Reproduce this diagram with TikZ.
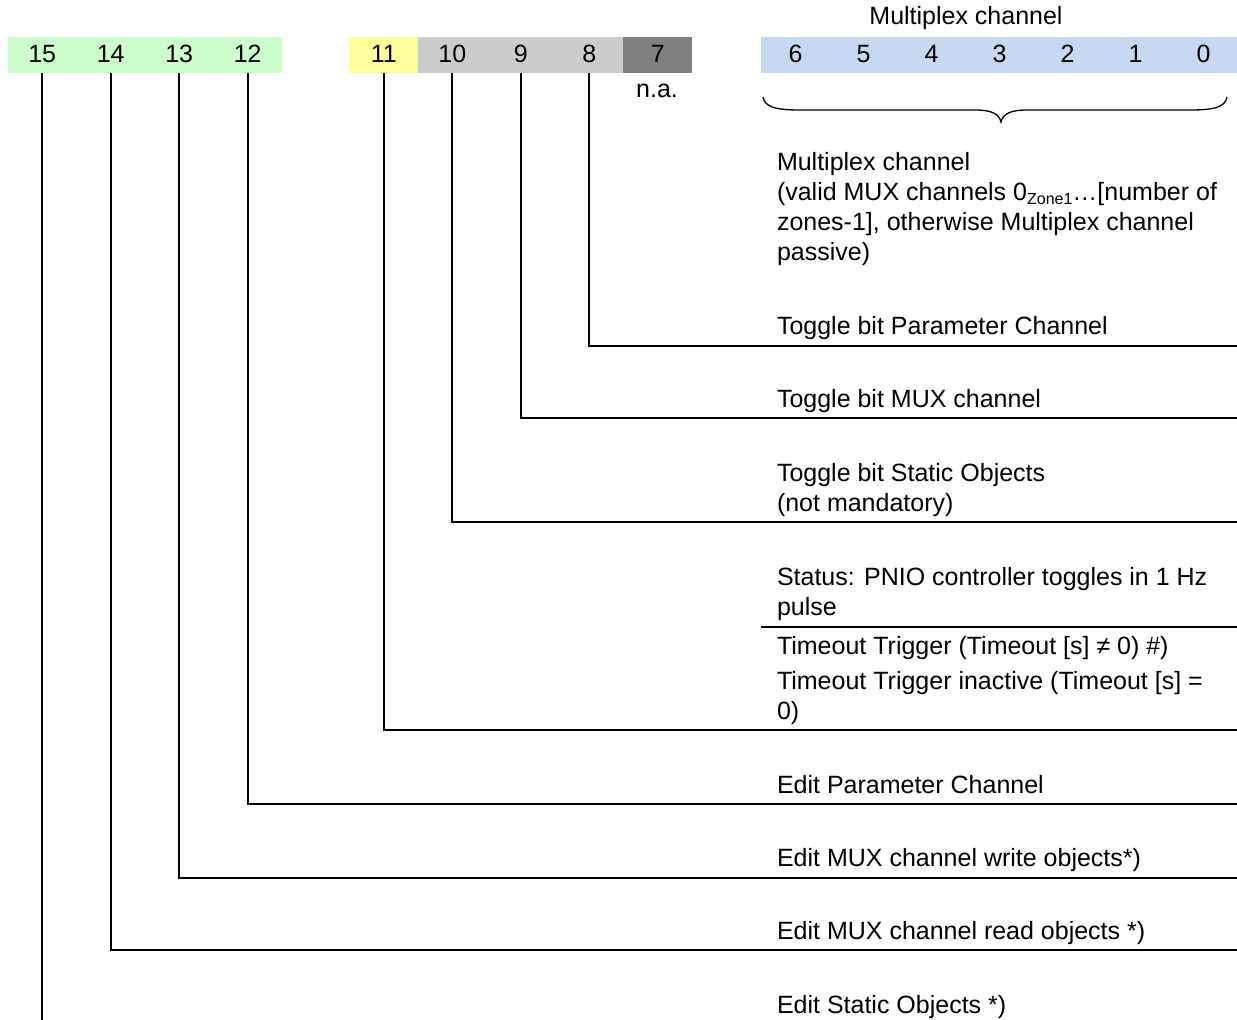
\documentclass[tikz,border=0pt]{standalone}
\usepackage{fontspec}
\setmainfont{Liberation Sans}
\definecolor{bitgreen}{RGB}{204,255,204}
\definecolor{bityellow}{RGB}{255,255,153}
\definecolor{bitgrey}{RGB}{204,204,204}
\definecolor{bitdark}{RGB}{128,128,128}
\definecolor{bitblue}{RGB}{198,217,240}
\begin{document}
\begin{tikzpicture}[x=1pt,y=-1pt,
  every node/.style={font=\fontsize{25}{30}\selectfont, inner sep=0pt, outer sep=0pt},
  bitcell/.style={minimum width=68.8pt, minimum height=36pt, text height=18pt, text depth=4pt, anchor=center, fill=#1},
  mxcell/.style={minimum width=68.2pt, minimum height=36pt, text height=18pt, text depth=4pt, anchor=center, fill=bitblue},
  label/.style={anchor=north west, align=left},
  conn/.style={line width=1.6pt}
]
\useasboundingbox[fill=white] (0,0) rectangle (1237,1020);
% bit cells
\node[bitcell=bitgreen] (b15) at (42.25,55) {15};
\node[bitcell=bitgreen] (b14) at (110.75,55) {14};
\node[bitcell=bitgreen] (b13) at (179.25,55) {13};
\node[bitcell=bitgreen] (b12) at (247.75,55) {12};
\node[bitcell=bityellow] (b11) at (383.75,55) {11};
\node[bitcell=bitgrey] (b10) at (452.25,55) {10};
\node[bitcell=bitgrey] (b9) at (520.75,55) {9};
\node[bitcell=bitgrey] (b8) at (589.25,55) {8};
\node[bitcell=bitdark] (b7) at (657.75,55) {7};
\node[mxcell] (b6) at (795.5,55) {6};
\node[mxcell] (b5) at (863.5,55) {5};
\node[mxcell] (b4) at (931.5,55) {4};
\node[mxcell] (b3) at (999.5,55) {3};
\node[mxcell] (b2) at (1067.5,55) {2};
\node[mxcell] (b1) at (1135.5,55) {1};
\node[mxcell] (b0) at (1203.5,55) {0};
\node (mxhead) at (966,18) {Multiplex channel};
\node (na) at (657,91) {n.a.};
% brace
\coordinate (brL) at (763,97);
\coordinate (brR) at (1227,97);
\coordinate (brT) at (1001,122);
\draw[line width=1.3pt] (brL) .. controls (765,107) and (775,110) .. (800,110)
  -- (975,110) .. controls (992,110) and (999,114) .. (brT)
  .. controls (1003,114) and (1010,110) .. (1027,110)
  -- (1190,110) .. controls (1215,110) and (1225,107) .. (brR);
% labels
\node[label] (t0) at (777,152) {Multiplex channel\\(valid MUX channels 0\raisebox{-4pt}{\fontsize{16}{16}\selectfont Zone1}…[number of\\zones-1], otherwise Multiplex channel\\passive)};
\node[label] (t8) at (777,316) {Toggle bit Parameter Channel};
\node[label] (t9) at (777,389) {Toggle bit MUX channel};
\node[label] (t10) at (777,463) {Toggle bit Static Objects\\(not mandatory)};
\node[label] (t11a) at (777,567) {Status: PNIO controller toggles in 1 Hz\\pulse};
\node[label] (t11b) at (777,636) {Timeout Trigger (Timeout [s] ≠ 0) \#)};
\node[label] (t11c) at (777,671) {Timeout Trigger inactive (Timeout [s] =\\0)};
\node[label] (t12) at (777,775) {Edit Parameter Channel};
\node[label] (t13) at (777,848) {Edit MUX channel write objects*)};
\node[label] (t14) at (777,921) {Edit MUX channel read objects *)};
\node[label] (t15) at (777,995) {Edit Static Objects *)};
% connector ends
\coordinate (e8) at (1237,346);
\coordinate (e9) at (1237,418);
\coordinate (e10) at (1237,522);
\coordinate (e11) at (1237,730);
\coordinate (e12) at (1237,804);
\coordinate (e13) at (1237,878);
\coordinate (e14) at (1237,950);
\coordinate (e15) at (43,1020);
\coordinate (s1) at (761,627);
\coordinate (s2) at (1237,627);
% connectors
\draw[conn] (b8.south) |- (e8);
\draw[conn] (b9.south) |- (e9);
\draw[conn] (b10.south) |- (e10);
\draw[conn] (b11.south) |- (e11);
\draw[conn] (b12.south) |- (e12);
\draw[conn] (b13.south) |- (e13);
\draw[conn] (b14.south) |- (e14);
\draw[conn] (b15.south) -- (b15.south |- e15);
\draw[conn] (s1) -- (s2);
\end{tikzpicture}
\end{document}
